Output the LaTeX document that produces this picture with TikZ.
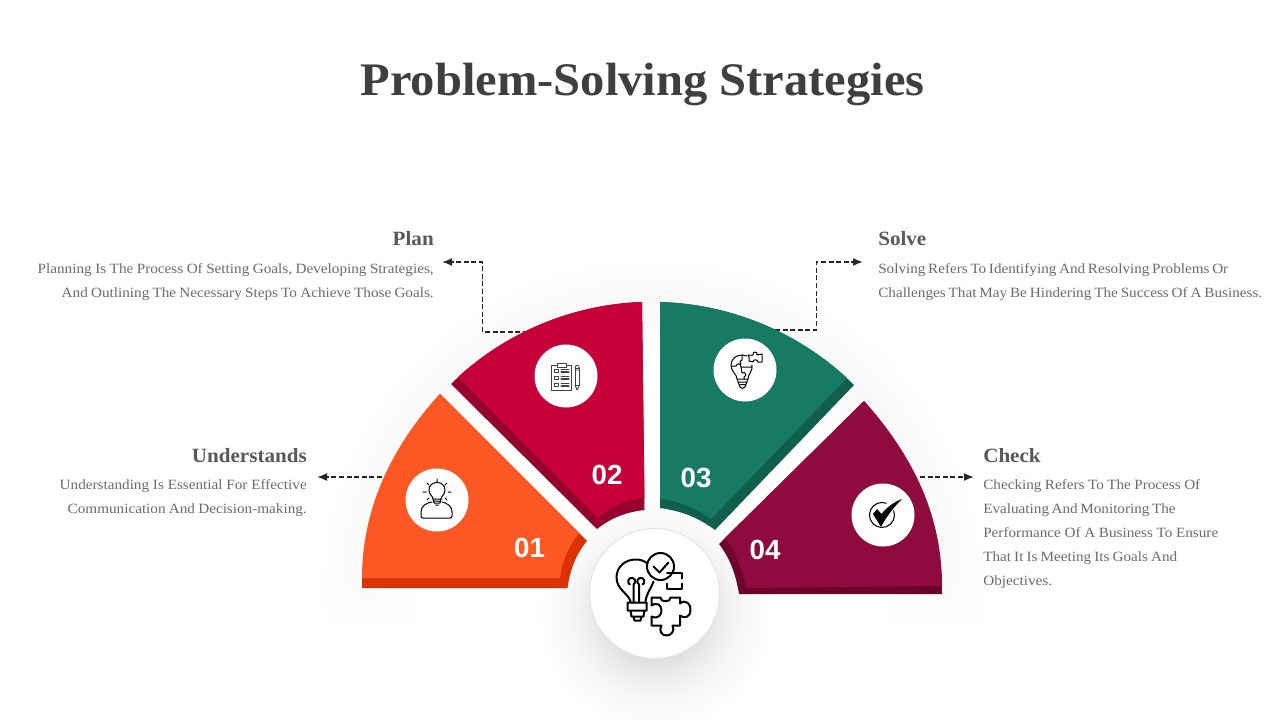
\documentclass[tikz,border=0pt]{standalone}
\usepackage{fontspec}
\setmainfont[FakeStretch=1.04]{Liberation Serif}
\newfontfamily\bodyfont[FakeStretch=1.075]{Liberation Serif}
\newfontfamily\numfont{Liberation Sans}
\usetikzlibrary{arrows.meta,fadings}
\definecolor{ttl}{HTML}{3F3F3F}
\definecolor{hd}{HTML}{595959}
\definecolor{bd}{HTML}{6B6B6B}
\definecolor{org}{HTML}{FD5823}\definecolor{orgd}{HTML}{DA3200}
\definecolor{rd}{HTML}{C60038}\definecolor{rdd}{HTML}{96002C}
\definecolor{grn}{HTML}{177A64}\definecolor{grnd}{HTML}{0F5E4E}
\definecolor{mar}{HTML}{8F0A3E}\definecolor{mard}{HTML}{6C052E}
\pgfdeclareradialshading{hubshadow}{\pgfpoint{0bp}{0bp}}{rgb(0bp)=(.84,.84,.84);rgb(9.6bp)=(.87,.87,.87);rgb(13bp)=(.92,.92,.92);rgb(18bp)=(.97,.97,.97);rgb(25bp)=(1,1,1);rgb(50bp)=(1,1,1)}
\pgfdeclareradialshading{halo}{\pgfpoint{0bp}{0bp}}{rgb(0bp)=(1,1,1);rgb(17.2bp)=(1,1,1);rgb(21.5bp)=(.975,.975,.975);rgb(25bp)=(1,1,1);rgb(50bp)=(1,1,1)}
\tikzfading[name=fadeupin,top color=transparent!100,bottom color=transparent!0]
\tikzset{
 x=0.75pt,y=-0.75pt,
 badge/.style={circle,fill=white,draw=none,minimum size=47.25pt,inner sep=0pt},
 num/.style={text=white,font=\numfont\bfseries\fontsize{20.8}{24}\selectfont,inner sep=0pt},
 head/.style={text=hd,font=\bfseries\fontsize{15.2}{18}\selectfont,inner sep=0pt},
 bodyl/.style={text=bd,font=\bodyfont\fontsize{10.6}{18}\selectfont,inner sep=0pt},
 link/.style={draw=black!85,line width=1.25pt,dash pattern=on 3.7pt off 2pt,-{Latex[length=7.5pt,width=6pt]}},
 ico/.style={draw=black,line width=.75pt,fill=none,line cap=round,line join=round},
 icof/.style={draw=black!75,line width=.7pt,fill=none,line cap=round,line join=round},
 hubico/.style={draw=black,line width=1.5pt,line cap=round,line join=round},
}
\newcommand{\txtline}[2]{\makebox[#1pt][s]{#2}}
\begin{document}
\begin{tikzpicture}
\useasboundingbox (0,0) rectangle (1280,720);
\fill[white] (0,0) rectangle (1280,720);
% soft shadows
\shade[shading=halo] (652,590) circle[radius=335];
\fill[white,path fading=fadeupin] (300,570) rectangle (1010,625);
\fill[white] (300,625) rectangle (1010,720);
\shade[shading=hubshadow] (655,612) circle[radius=120];
% title
\node[inner sep=0pt,text=ttl,font=\bfseries\fontsize{35}{40}\selectfont] (title) at (642.5,84.5) {Problem-Solving Strategies};
% connectors
\coordinate (c1a) at (382,477); \coordinate (c1b) at (317,477);
\coordinate (c2a) at (528,332); \coordinate (c2b) at (442,262);
\coordinate (c3a) at (775,330); \coordinate (c3b) at (863,262);
\coordinate (c4a) at (920,477); \coordinate (c4b) at (974,477);
\draw[link] (c1a) -- (c1b);
\draw[link] (c2a) -- (482.5,332) -- (482.5,262) -- (c2b);
\draw[link] (c3a) -- (816.5,330) -- (816.5,262) -- (c3b);
\draw[link] (c4a) -- (c4b);
% segment 01
\fill[orgd] (362,588) .. controls (362,515) and (390.6,447.4) .. (440,394) -- (587,541) .. controls (576,554) and (570,570) .. (567.5,588) -- cycle;
\fill[org] (362,578) .. controls (362,510) and (390.6,447.4) .. (440,394) -- (579,533) .. controls (569,546) and (562,561) .. (560,578) -- cycle;
% segment 02
\fill[rdd] (451,384) .. controls (502.3,334) and (570.4,304.5) .. (642,302) -- (644.5,510) .. controls (626,512) and (611,518) .. (597,529) -- cycle;
\fill[rd] (458,377) .. controls (508.4,331) and (573.8,304.4) .. (642,302) -- (644.5,498) .. controls (626,500) and (611,506) .. (598,518) -- cycle;
% segment 03
\fill[grnd] (660,302) .. controls (732.9,304) and (802.1,333.9) .. (854,385) -- (715,530) .. controls (699,518) and (682,511) .. (660,508) -- cycle;
\fill[grn] (660,302) .. controls (729.4,304) and (795.9,331) .. (847,378) -- (711,519) .. controls (696,508) and (680,501) .. (660,499) -- cycle;
% segment 04
\fill[mard] (864,401) .. controls (912.8,455.3) and (942,521) .. (942,594) -- (739,594) .. controls (736,575) and (730,558) .. (719,544) -- cycle;
\fill[mar] (864,401) .. controls (912.8,455.3) and (942,515) .. (942,586) -- (746,588) .. controls (743,570) and (736,553) .. (725,538) -- cycle;
% numbers
\node[num] (n1) at (529.5,547.5) {01};
\node[num] (n2) at (607,474.5) {02};
\node[num] (n3) at (696,477.5) {03};
\node[num] (n4) at (765,549.5) {04};
% badges
\node[badge] (b1) at (437,500) {};
\node[badge] (b2) at (566,376) {};
\node[badge] (b3) at (745,370) {};
\node[badge] (b4) at (883,515) {};
% centre
\node[circle,fill=white,draw=black!10,line width=.8pt,minimum size=97.5pt,inner sep=0pt] (hub) at (654.5,593.5) {};
% icon 1: person + bulb
\begin{scope}[shift={(b1.center)}]
\draw[ico] (5,2) .. controls (10,3) and (15,6) .. (15,12) -- (15,16) .. controls (15,17.5) and (14,18) .. (13,18) -- (-14,18) .. controls (-15,18) and (-16,17.5) .. (-16,16) -- (-16,12) .. controls (-16,6) and (-11,3) .. (-5,2);
\draw[ico] (-4,-1) .. controls (-4,-4) and (-8,-5) .. (-8,-10) .. controls (-8,-20) and (8,-20) .. (8,-10) .. controls (8,-5) and (4,-4) .. (4,-1) -- cycle;
\draw[ico] (-4,-1) -- (-3,3) -- (3,3) -- (4,-1) (-3,1) -- (3,1) (-1.5,5) -- (1.5,5);
\draw[ico] (0,-21) -- (0,-18) (-10,-17) -- (-8,-15) (10,-17) -- (8,-15) (-14,-8) -- (-11,-8) (14,-8) -- (11,-8) (-10,0) -- (-8,-2) (10,0) -- (8,-2);
\end{scope}
% icon 2: checklist + pencil
\begin{scope}[shift={(b2.center)}]
\draw[icof] (-15,-11) rectangle (5.7,14);
\draw[icof,fill=white] (-9,-13) rectangle (0,-9);
\foreach \yy in {-5,2,9}{
 \draw[icof] (-12,\yy-1.8) rectangle (-8,\yy+1.8);
 \draw[icof] (-5,\yy-1.5) -- (3,\yy-1.5) (-5,\yy) -- (3,\yy) (-5,\yy+1.5) -- (3,\yy+1.5);
}
\draw[icof] (9,-8) rectangle (13.3,9);
\draw[icof] (9,-8) .. controls (9,-11.5) and (13.3,-11.5) .. (13.3,-8) (9,9) -- (11.1,14) -- (13.3,9) (9,-6) -- (13.3,-6);
\end{scope}
% icon 3: puzzle bulb
\begin{scope}[shift={(b3.center)}]
\draw[ico] (-8,9) .. controls (-8,4) and (-14,2) .. (-14,-5) .. controls (-14,-11) and (-9,-15) .. (-3,-15) .. controls (-1,-15) and (0,-15) .. (2,-14) (7,-5) .. controls (8,1) and (3,4) .. (3,9);
\draw[ico] (-8,9) -- (3,9) (-7,12) -- (2,12) (-6,14.5) -- (1,14.5) (-5,17) .. controls (-4,19) and (-1,19) .. (0,17) (-8,9) -- (-5,17) (3,9) -- (0,17);
\draw[ico] (-14,-4) -- (-9,-4) .. controls (-8,-7) and (-4,-7) .. (-4,-3) -- (-3,3) .. controls (1,1) and (2,6) .. (-1,7) -- (-1,9) (-4,-3) -- (7,-3) (-3,-15) -- (-3,-10) .. controls (-6,-9) and (-5,-6) .. (-4,-6);
\draw[ico,fill=white] (4,-9) -- (4,-13) -- (3,-15) -- (8,-15) .. controls (7,-19) and (13,-19) .. (12,-15) -- (17,-16) -- (17,-8) -- (13,-8) .. controls (13,-11) and (8,-11) .. (8,-8) -- cycle;
\end{scope}
% icon 4: check
\begin{scope}[shift={(b4.center)}]
\draw[ico,line width=.8pt] (10.7,-4.3) arc[start angle=-20,end angle=290,radius=12.5];
\fill[black] (-10,-1) -- (-6,-6) -- (-1.5,-1) .. controls (4,-8) and (11,-13) .. (19,-16) .. controls (11,-8) and (3,2) .. (-2,12) -- cycle;
\end{scope}
% centre icon
\begin{scope}[shift={(hub.center)}]
\draw[hubico] (-24,8) .. controls (-26,0) and (-38,-4) .. (-38,-16) .. controls (-38,-27) and (-29,-34) .. (-19,-34) .. controls (-14,-34) and (-11,-33) .. (-7,-30);
\draw[hubico] (-1,-12) .. controls (-4,-4) and (-8,0) .. (-9,8);
\draw[hubico] (-21,9) -- (-21,-9) arc[start angle=60,end angle=-240,radius=3.6];
\draw[hubico] (-15.5,9) -- (-15.5,-9) arc[start angle=120,end angle=420,radius=3.6];
\draw[hubico] (-27,9) -- (-8,9) -- (-8,17) -- (-27,17) -- cycle (-24,17) -- (-23,23) -- (-11,23) -- (-10,17) (-21,23) -- (-20,27) -- (-14,27) -- (-13,23);
\draw[hubico] (6,-27) circle[radius=13.5];
\draw[hubico] (-1,-27) -- (5,-21) -- (14,-31);
\draw[hubico] (12.5,-20.5) -- (27.5,-20.5) -- (27.5,-15) (27.5,-10) -- (27.5,-4.5) -- (12.5,-4.5) -- (12.5,-10);
\draw[hubico] (-3,4) -- (6,4) .. controls (5,9) and (17,9) .. (16,4) -- (25.5,4) -- (25.5,10) .. controls (31,5) and (37,11) .. (36,17) .. controls (36,23) and (30,26) .. (25.5,22) -- (25.5,32) -- (18,32) .. controls (21,38) and (16,42) .. (12,42) .. controls (7,42) and (4,37) .. (7,32) -- (-3,32) -- (-3,23) .. controls (4,26) and (7,21) .. (7,17) .. controls (7,12) and (3,8) .. (-3,12) -- cycle;
\end{scope}
% texts
\node[head,anchor=base east] (t2) at (434,246) {Plan};
\node[bodyl,anchor=base east] (d2a) at (434,273) {\txtline{297}{Planning Is The Process Of Setting Goals, Developing Strategies,}};
\node[bodyl,anchor=base east] (d2b) at (434,297) {\txtline{279}{And Outlining The Necessary Steps To Achieve Those Goals.}};
\node[head,anchor=base west] (t3) at (878,246) {Solve};
\node[bodyl,anchor=base west] (d3a) at (878,273) {\txtline{262.5}{Solving Refers To Identifying And Resolving Problems Or}};
\node[bodyl,anchor=base west] (d3b) at (878,297) {\txtline{288}{Challenges That May Be Hindering The Success Of A Business.}};
\node[head,anchor=base east] (t1) at (307,462) {Understands};
\node[bodyl,anchor=base east] (d1a) at (307,489) {\txtline{185.25}{Understanding Is Essential For Effective}};
\node[bodyl,anchor=base east] (d1b) at (307,513) {\txtline{179.25}{Communication And Decision-making.}};
\node[head,anchor=base west] (t4) at (983,462) {Check};
\node[bodyl,anchor=base west] (d4a) at (983,489) {\txtline{162.75}{Checking Refers To The Process Of}};
\node[bodyl,anchor=base west] (d4b) at (983,513) {\txtline{144}{Evaluating And Monitoring The}};
\node[bodyl,anchor=base west] (d4c) at (983,537) {\txtline{176.25}{Performance Of A Business To Ensure}};
\node[bodyl,anchor=base west] (d4d) at (983,561) {\txtline{145.5}{That It Is Meeting Its Goals And}};
\node[bodyl,anchor=base west] (d4e) at (983,585) {Objectives.};
\end{tikzpicture}
\end{document}
